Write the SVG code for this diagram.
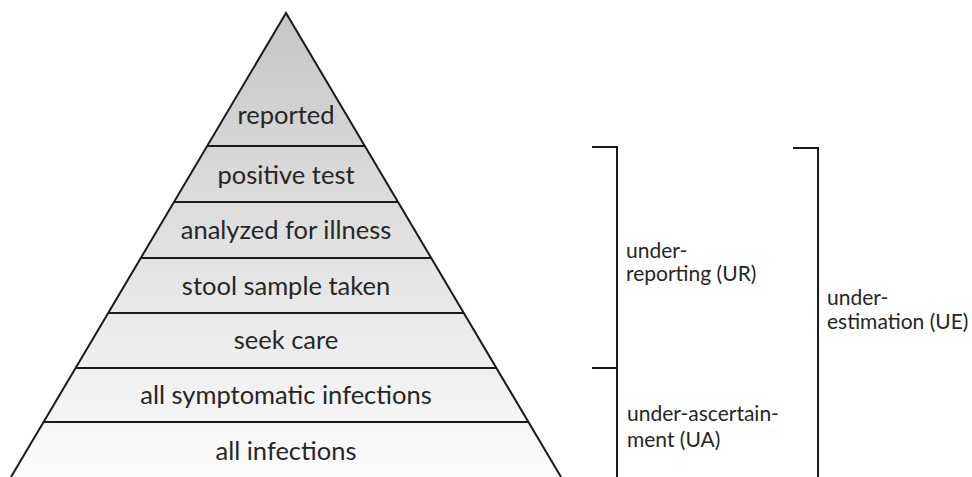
<svg xmlns="http://www.w3.org/2000/svg" width="972" height="477" viewBox="0 0 972 477">
<defs>
<linearGradient id="g" x1="0" y1="13" x2="0" y2="477" gradientUnits="userSpaceOnUse">
<stop offset="0" stop-color="#c6c6c6"/>
<stop offset="1" stop-color="#fcfcfc"/>
</linearGradient>
</defs>
<style>
.lbl{font-family:Lato,"Open Sans",sans-serif;font-size:25.5px;fill:#262626;text-anchor:middle}
.side{font-family:Lato,"Open Sans",sans-serif;font-size:21px;fill:#262626}
.ln{stroke:#1a1a1a;stroke-width:2;fill:none}
</style>
<rect width="972" height="477" fill="#ffffff"/>
<g id="pyramid">
<polygon points="286,13 561,477 11,477" fill="url(#g)" stroke="none"/>
</g>
<g id="connectors">
<line class="ln" x1="207" y1="146" x2="365" y2="146"/>
<line class="ln" x1="174" y1="202" x2="398" y2="202"/>
<line class="ln" x1="141" y1="258" x2="431" y2="258"/>
<line class="ln" x1="109" y1="313" x2="463" y2="313"/>
<line class="ln" x1="76" y1="368" x2="496" y2="368"/>
<line class="ln" x1="44" y1="422" x2="528" y2="422"/>
<polyline class="ln" points="11,477 286,13 561,477"/>
<polyline class="ln" points="592,147 617,147 617,368"/>
<polyline class="ln" points="592,368 617,368 617,477"/>
<polyline class="ln" points="793,148 818,148 818,477"/>
</g>
<g id="n-reported"><text class="lbl" x="286" y="124">reported</text></g>
<g id="n-positive"><text class="lbl" x="286" y="184">positive test</text></g>
<g id="n-analyzed"><text class="lbl" x="286" y="239">analyzed for illness</text></g>
<g id="n-stool"><text class="lbl" x="286" y="295">stool sample taken</text></g>
<g id="n-seek"><text class="lbl" x="286" y="349">seek care</text></g>
<g id="n-symptomatic"><text class="lbl" x="286" y="404">all symptomatic infections</text></g>
<g id="n-all"><text class="lbl" x="286" y="460">all infections</text></g>
<g id="ur"><text class="side" x="626" y="258">under-</text><text class="side" x="626" y="281">reporting (UR)</text></g>
<g id="ua"><text class="side" x="627" y="421">under-ascertain-</text><text class="side" x="627" y="447">ment (UA)</text></g>
<g id="ue"><text class="side" x="827" y="305">under-</text><text class="side" x="827" y="329">estimation (UE)</text></g>
</svg>
